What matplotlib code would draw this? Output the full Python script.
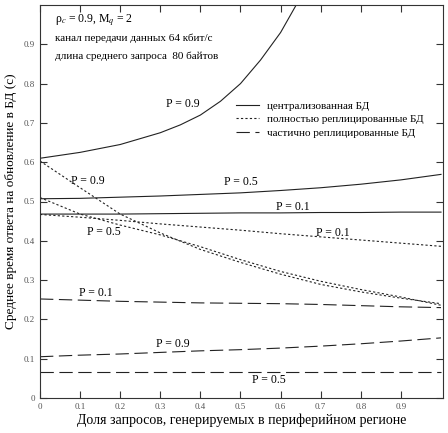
import matplotlib
matplotlib.use('Agg')
import matplotlib.pyplot as plt

plt.rcParams['font.family'] = ['Liberation Serif', 'DejaVu Serif']
plt.rcParams['mathtext.fontset'] = 'stix'

# доля запросов из периферийного региона
x = [0, 0.1, 0.2, 0.3, 0.4, 0.5, 0.6, 0.7, 0.8, 0.9, 1.0]

# централизованная БД
x_c09 = [0, 0.1, 0.2, 0.3, 0.35, 0.4, 0.45, 0.5, 0.55, 0.6, 0.65]
central_09 = [0.61, 0.625, 0.645, 0.675, 0.695, 0.72, 0.755, 0.80, 0.86, 0.93, 1.02]
central_05 = [0.507, 0.508, 0.511, 0.514, 0.518, 0.522, 0.528, 0.535, 0.544, 0.555, 0.569]
central_01 = [0.468, 0.468, 0.468, 0.469, 0.470, 0.471, 0.471, 0.472, 0.472, 0.473, 0.473]

# полностью реплицированные БД
full_09 = [0.603, 0.535, 0.468, 0.42, 0.378, 0.345, 0.315, 0.289, 0.27, 0.254, 0.24]
full_05 = [0.51, 0.468, 0.44, 0.415, 0.385, 0.352, 0.322, 0.297, 0.276, 0.257, 0.236]
full_01 = [0.467, 0.46, 0.452, 0.443, 0.435, 0.427, 0.418, 0.41, 0.402, 0.394, 0.386]

# частично реплицированные БД
part_01 = [0.252, 0.249, 0.246, 0.244, 0.242, 0.241, 0.24, 0.238, 0.235, 0.232, 0.23]
part_09 = [0.105, 0.109, 0.112, 0.116, 0.12, 0.123, 0.127, 0.132, 0.138, 0.145, 0.153]
part_05 = [0.065] * 11

xticks = [0, 0.1, 0.2, 0.3, 0.4, 0.5, 0.6, 0.7, 0.8, 0.9]
yticks = [0, 0.1, 0.2, 0.3, 0.4, 0.5, 0.6, 0.7, 0.8, 0.9]

fig = plt.figure(figsize=(4.48, 4.33), dpi=100)
ax = fig.add_axes([40 / 448, 1 - 398 / 433, 403 / 448, 393 / 433])

lw = 0.8
dot = (0, (2, 2))
dash = (0, (12, 5))
c = '#222222'

ax.plot(x_c09, central_09, color=c, lw=lw, label='централизованная БД')
ax.plot(x, central_05, color=c, lw=lw)
ax.plot(x, central_01, color=c, lw=lw)

ax.plot(x, full_09, color=c, lw=lw, ls=dot, label='полностью реплицированные БД')
ax.plot(x, full_05, color=c, lw=lw, ls=dot)
ax.plot(x, full_01, color=c, lw=lw, ls=dot)

ax.plot(x, part_01, color=c, lw=lw, ls=dash, label='частично реплицированные БД')
ax.plot(x, part_09, color=c, lw=lw, ls=dash)
ax.plot(x, part_05, color=c, lw=lw, ls=dash)

fs = 8.5
ax.text(0.355, 0.747, 'P = 0.9', fontsize=fs, ha='center', va='center')
ax.text(0.12, 0.551, 'P = 0.9', fontsize=fs, ha='center', va='center')
ax.text(0.50, 0.549, 'P = 0.5', fontsize=fs, ha='center', va='center')
ax.text(0.63, 0.485, 'P = 0.1', fontsize=fs, ha='center', va='center')
ax.text(0.16, 0.422, 'P = 0.5', fontsize=fs, ha='center', va='center')
ax.text(0.73, 0.421, 'P = 0.1', fontsize=fs, ha='center', va='center')
ax.text(0.14, 0.268, 'P = 0.1', fontsize=fs, ha='center', va='center')
ax.text(0.33, 0.138, 'P = 0.9', fontsize=fs, ha='center', va='center')
ax.text(0.57, 0.047, 'P = 0.5', fontsize=fs, ha='center', va='center')

ax.text(0.037, 0.962, 'ρ$_c$ = 0.9, M$_q$ = 2', fontsize=8.5, va='center')
ax.text(0.037, 0.916, 'канал передачи данных 64 кбит/с', fontsize=8, va='center')
ax.text(0.037, 0.870, 'длина среднего запроса  80 байтов', fontsize=8, va='center')

ax.legend(loc='upper left', bbox_to_anchor=(0.486, 0.756), frameon=False,
          fontsize=8, handlelength=2.1, handletextpad=0.7, labelspacing=0.35,
          borderpad=0, borderaxespad=0)

ax.set_xlim(0, 1.005)
ax.set_ylim(0, 1.0)
ax.set_xticks(xticks)
ax.set_yticks(yticks)
ax.set_xticklabels([f'{t:g}' for t in xticks])
ax.set_yticklabels([f'{t:g}' for t in yticks])
ax.tick_params(direction='in', top=True, right=True, length=5, width=0.8,
               labelsize=6.5, labelcolor='#555555', colors='#333333')
ax.tick_params(axis='y', labelcolor='#555555')
for s in ax.spines.values():
    s.set_linewidth(0.8)
    s.set_color('#333333')

ax.set_xlabel('Доля запросов, генерируемых в периферийном регионе', fontsize=10, labelpad=2)
ax.set_ylabel('Среднее время ответа на обновление в БД (с)', fontsize=9.5, labelpad=5)

fig.savefig('out.png', dpi=100)
